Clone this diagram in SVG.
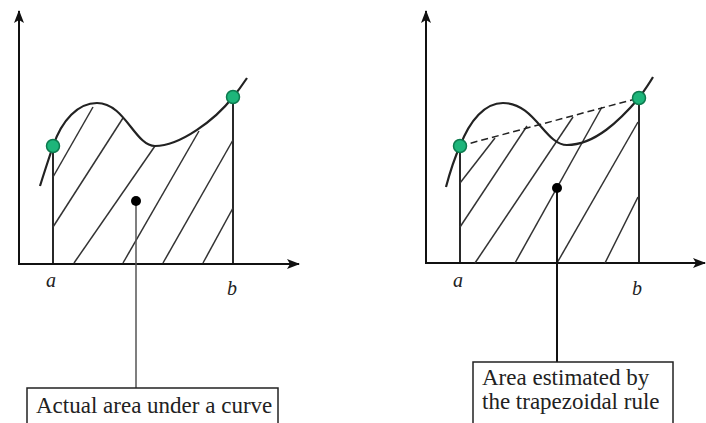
<svg xmlns="http://www.w3.org/2000/svg" width="706" height="423" viewBox="0 0 706 423">
<style>
.ax{stroke:#111;stroke-width:2;fill:none}
.cv{stroke:#222;stroke-width:2.2;fill:none}
.ht{stroke:#333;stroke-width:1.5;fill:none}
.vl{stroke:#111;stroke-width:1.8;fill:none}
.pt{fill:#1db57a;stroke:#0d7a4e;stroke-width:1.5}
.dot{fill:#000}
.lbl{font-family:"Liberation Serif",serif;font-style:italic;font-size:20px;fill:#222}
.box{fill:#fff;stroke:#222;stroke-width:1.5}
.bt{font-family:"Liberation Serif",serif;font-size:23px;fill:#222}
</style>
<defs>
<marker id="ar" markerWidth="14" markerHeight="10" refX="12" refY="5" orient="auto" markerUnits="userSpaceOnUse">
<path d="M0,0 L13,5 L0,10 L3,5 Z" fill="#111"/>
</marker>
</defs>
<g id="left-chart">
<line class="ax" x1="19" y1="264" x2="19" y2="11" marker-end="url(#ar)"/>
<line class="ax" x1="18" y1="264" x2="299" y2="264" marker-end="url(#ar)"/>
<line class="vl" x1="53" y1="146" x2="53" y2="264"/>
<line class="vl" x1="233" y1="97" x2="233" y2="264"/>
<g>
<line class="ht" x1="53" y1="177" x2="93" y2="107"/>
<line class="ht" x1="53" y1="227" x2="123" y2="118"/>
<line class="ht" x1="74" y1="263" x2="155" y2="146"/>
<line class="ht" x1="123" y1="263" x2="199" y2="131"/>
<line class="ht" x1="163" y1="263" x2="233" y2="140"/>
<line class="ht" x1="203" y1="263" x2="233" y2="208"/>
</g>
<path class="cv" d="M40,186 C45,170 50,155 53,146 C62,120 78,103 97,103 C125,103 135,146 155,146 C180,146 215,120 233,97 C238,91 243,84 247,78"/>
<circle class="pt" cx="53" cy="146" r="6.5"/>
<circle class="pt" cx="233" cy="97" r="6.5"/>
<text class="lbl" x="46" y="287">a</text>
<text class="lbl" x="227" y="295">b</text>
</g>
<g id="right-chart">
<line class="ax" x1="426" y1="263" x2="426" y2="11" marker-end="url(#ar)"/>
<line class="ax" x1="425" y1="263" x2="705" y2="263" marker-end="url(#ar)"/>
<line class="vl" x1="460" y1="146" x2="460" y2="263"/>
<line class="vl" x1="639" y1="98" x2="639" y2="263"/>
<g>
<line class="ht" x1="460" y1="183" x2="495" y2="138"/>
<line class="ht" x1="460" y1="227" x2="527" y2="126"/>
<line class="ht" x1="475" y1="263" x2="573" y2="117"/>
<line class="ht" x1="515" y1="263" x2="602" y2="107"/>
<line class="ht" x1="557" y1="263" x2="638" y2="122"/>
<line class="ht" x1="605" y1="263" x2="638" y2="197"/>
</g>
<line x1="460" y1="146" x2="639" y2="98" stroke="#222" stroke-width="1.5" stroke-dasharray="7,4"/>
<path class="cv" d="M446,187 C450,172 455,157 460,146 C470,120 485,103 503,103 C535,103 545,145 567,145 C595,145 620,120 639,98 C644,91 649,84 653,77"/>
<circle class="pt" cx="460" cy="146" r="6.5"/>
<circle class="pt" cx="639" cy="98" r="6.5"/>
<text class="lbl" x="453" y="287">a</text>
<text class="lbl" x="632" y="295">b</text>
</g>
<g id="connectors">
<line x1="136" y1="205" x2="136" y2="388" stroke="#555" stroke-width="1.5"/>
<line x1="557" y1="188" x2="557" y2="362" stroke="#111" stroke-width="2"/>
</g>
<g id="pointer-dots">
<circle class="dot" cx="136" cy="201" r="5"/>
<circle class="dot" cx="557" cy="188" r="5"/>
</g>
<g id="box-actual">
<rect class="box" x="27" y="388" width="251" height="40"/>
<text class="bt" x="36" y="413">Actual area under a curve</text>
</g>
<g id="box-trapezoidal">
<rect class="box" x="473" y="362" width="200" height="66"/>
<text class="bt" x="482" y="385">Area estimated by</text>
<text class="bt" x="482" y="409">the trapezoidal rule</text>
</g>
</svg>
